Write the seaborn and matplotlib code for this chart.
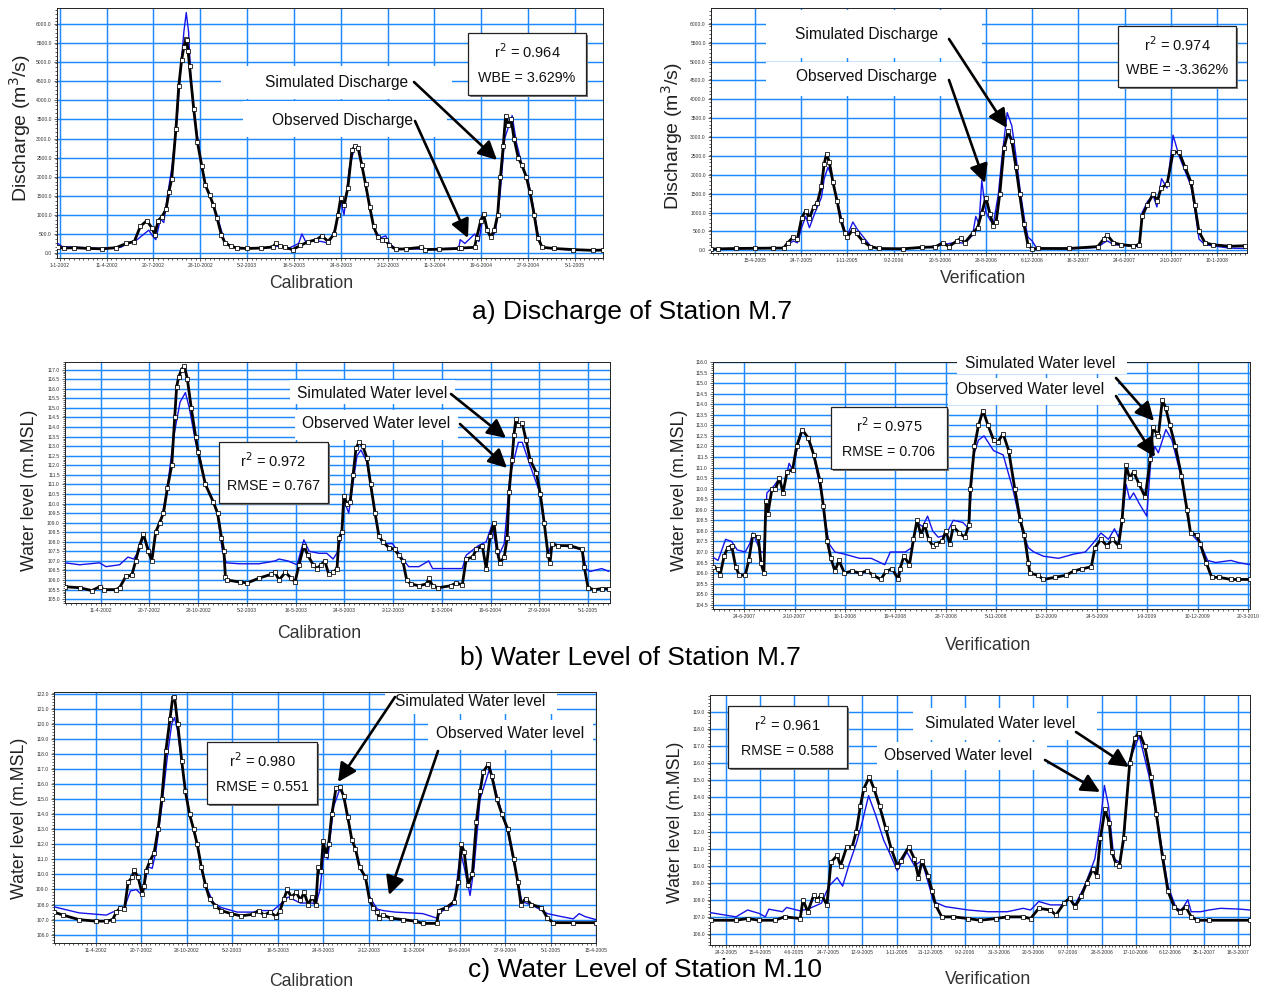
import pandas as pd
import matplotlib
matplotlib.use("Agg")
import matplotlib.pyplot as plt
import matplotlib.dates as mdates
from matplotlib.ticker import FixedLocator, FuncFormatter
from matplotlib.patches import Rectangle, FancyArrowPatch
import seaborn as sns

# ---- data (x = days after the first dated tick) ----
# a) discharge M.7, calibration (first tick 1-1-2002)
a_obs_day = [-4, 10, 30, 60, 90, 120, 142, 159, 172, 186, 197, 203, 210, 218, 227, 233, 239, 248, 254, 260, 265, 269, 271, 274, 277, 286, 294, 303, 311, 320, 328, 336, 345, 353, 366, 379, 400, 430, 455, 461, 470, 480, 497, 514, 531, 548, 560, 573, 586, 594, 600, 607, 615, 624, 631, 637, 645, 653, 662, 670, 679, 687, 696, 704, 717, 740, 772, 780, 810, 852, 856, 886, 890, 899, 905, 913, 920, 928, 935, 941, 947, 952, 958, 964, 970, 979, 987, 996, 1004, 1013, 1021, 1030, 1055, 1097, 1139, 1160]
a_obs_q = [150, 130, 140, 120, 110, 140, 250, 300, 700, 850, 650, 480, 850, 950, 1150, 1600, 1950, 3250, 4370, 5050, 5400, 5600, 5580, 5300, 4890, 3770, 2900, 2290, 1775, 1515, 1255, 910, 475, 260, 175, 130, 120, 130, 160, 250, 180, 150, 90, 200, 300, 350, 450, 300, 500, 1000, 1450, 1250, 1700, 2700, 2800, 2750, 2300, 1800, 1200, 700, 420, 350, 330, 200, 100, 110, 150, 90, 100, 120, 130, 150, 400, 850, 1020, 600, 420, 600, 1000, 2000, 2800, 3600, 3350, 3500, 3000, 2500, 2300, 2000, 1600, 1000, 400, 150, 120, 90, 70, 80]
a_sim_day = [-4, 5, 40, 90, 130, 150, 165, 180, 190, 198, 205, 215, 222, 230, 240, 250, 258, 265, 270, 275, 280, 290, 300, 311, 325, 340, 352, 365, 400, 455, 470, 490, 510, 517, 525, 545, 560, 575, 590, 600, 607, 618, 630, 640, 650, 662, 672, 685, 696, 704, 717, 780, 852, 855, 865, 886, 895, 905, 912, 920, 930, 940, 950, 958, 966, 975, 987, 1000, 1010, 1021, 1030, 1080, 1140, 1160]
a_sim_q = [250, 170, 150, 120, 150, 280, 350, 500, 600, 450, 350, 900, 800, 1500, 2300, 3500, 4800, 5800, 6300, 5800, 4500, 3400, 2500, 1800, 1350, 800, 300, 180, 120, 150, 200, 130, 250, 500, 300, 320, 300, 250, 700, 1350, 1000, 2200, 2800, 2700, 2000, 1200, 600, 400, 450, 250, 120, 100, 130, 350, 250, 500, 300, 1050, 600, 400, 550, 1500, 3000, 3300, 3600, 2900, 2300, 1900, 1300, 500, 150, 90, 80, 90]

# b) discharge M.7, verification (first tick 15-4-2005)
b_obs_day = [-95, -80, -40, 0, 40, 62, 71, 83, 92, 101, 110, 118, 127, 135, 144, 150, 155, 161, 169, 178, 186, 195, 200, 212, 220, 233, 250, 268, 320, 361, 390, 407, 420, 437, 446, 454, 471, 482, 491, 500, 509, 516, 522, 530, 539, 548, 556, 565, 573, 582, 591, 600, 613, 680, 742, 755, 763, 776, 793, 819, 832, 838, 849, 862, 871, 879, 892, 905, 918, 931, 944, 952, 961, 974, 991, 1026, 1060]
b_obs_q = [30, 40, 50, 55, 60, 60, 200, 350, 300, 850, 1050, 850, 1150, 1250, 1700, 2300, 2550, 2350, 1800, 1300, 800, 450, 350, 550, 450, 250, 100, 50, 40, 80, 90, 200, 100, 250, 320, 200, 450, 600, 1000, 1400, 950, 650, 750, 1500, 2700, 3150, 2900, 2200, 1500, 700, 150, 30, 50, 50, 100, 300, 400, 200, 150, 120, 150, 900, 1200, 1500, 1300, 1650, 1750, 2600, 2600, 2200, 1800, 1200, 500, 200, 150, 110, 120]
b_sim_day = [-95, -40, 40, 62, 71, 83, 92, 101, 110, 118, 130, 144, 150, 158, 165, 175, 186, 195, 200, 212, 222, 235, 250, 268, 361, 407, 437, 454, 471, 478, 485, 491, 500, 509, 516, 527, 535, 546, 556, 565, 575, 585, 591, 600, 610, 680, 742, 755, 763, 776, 832, 838, 850, 862, 870, 880, 892, 905, 918, 931, 944, 952, 961, 974, 1026, 1060]
b_sim_q = [40, 45, 55, 60, 150, 250, 200, 600, 900, 600, 1000, 1400, 1900, 2200, 2000, 1500, 900, 500, 400, 750, 550, 350, 120, 40, 60, 150, 220, 180, 400, 900, 700, 1850, 1000, 800, 700, 1500, 2500, 3650, 3300, 2500, 1500, 700, 350, 250, 50, 40, 80, 200, 250, 150, 100, 1000, 1300, 1450, 1150, 1900, 1650, 3050, 2500, 2100, 1700, 1100, 300, 150, 60, 50]

# c) water level M.7, calibration (first tick 11-4-2002)
c_obs_day = [-73, -43, -18, -2, 7, 31, 39, 52, 64, 72, 80, 88, 98, 105, 113, 121, 129, 137, 146, 152, 156, 160, 166, 172, 178, 186, 195, 200, 215, 231, 240, 248, 253, 256, 260, 285, 301, 325, 350, 358, 366, 379, 391, 399, 407, 417, 425, 436, 444, 452, 460, 468, 477, 485, 489, 495, 499, 505, 512, 518, 524, 530, 538, 546, 554, 563, 571, 579, 591, 603, 612, 620, 628, 636, 653, 669, 673, 681, 693, 718, 730, 742, 750, 763, 771, 783, 791, 799, 807, 814, 819, 828, 834, 838, 844, 848, 852, 857, 865, 873, 881, 894, 902, 910, 918, 922, 926, 938, 963, 988, 992, 1000, 1012, 1028, 1043]
c_obs_h = [105.65, 105.6, 105.45, 105.65, 105.5, 105.5, 105.6, 106.2, 106.25, 107.0, 107.8, 108.4, 107.5, 107.0, 108.5, 109.0, 109.5, 110.8, 112.0, 114.5, 116.1, 116.6, 117.0, 117.2, 116.5, 115.0, 113.5, 112.7, 111.0, 110.1, 109.5, 108.2, 107.5, 106.15, 106.0, 105.9, 105.85, 106.1, 106.3, 106.4, 106.0, 106.4, 106.1, 105.9, 106.8, 107.8, 107.3, 106.8, 106.6, 106.8, 107.0, 106.3, 106.4, 106.6, 108.2, 108.5, 110.4, 110.0, 110.1, 111.5, 112.9, 113.2, 113.0, 112.4, 111.0, 109.5, 108.3, 108.0, 107.7, 107.6, 107.3, 107.0, 106.0, 105.8, 105.7, 105.8, 106.1, 105.7, 105.6, 105.7, 105.85, 105.75, 107.1, 107.2, 107.6, 107.8, 106.6, 108.3, 109.0, 107.5, 106.9, 107.2, 108.2, 110.6, 112.3, 113.6, 114.4, 114.1, 114.2, 113.3, 112.3, 111.6, 110.5, 109.0, 107.3, 106.9, 107.9, 107.8, 107.8, 107.6, 106.7, 105.6, 105.5, 105.55, 105.55]
c_sim_day = [-73, -43, -2, 11, 39, 56, 68, 80, 88, 96, 106, 114, 124, 137, 150, 163, 174, 182, 195, 203, 215, 231, 240, 250, 258, 285, 325, 358, 366, 384, 403, 417, 428, 448, 464, 477, 487, 495, 499, 509, 526, 534, 546, 554, 563, 571, 579, 599, 620, 632, 653, 673, 681, 742, 750, 775, 791, 803, 815, 828, 840, 857, 865, 881, 902, 918, 926, 988, 996, 1004, 1028, 1043]
c_sim_h = [106.9, 106.8, 106.9, 106.7, 106.8, 107.2, 107.1, 107.6, 108.3, 107.8, 107.2, 108.6, 109.1, 110.8, 113.5, 115.3, 115.8, 115.0, 113.2, 112.5, 111.0, 110.1, 109.4, 107.5, 106.9, 106.85, 106.85, 107.0, 107.1, 107.0, 106.8, 108.1, 107.5, 107.4, 107.4, 107.1, 107.5, 108.5, 110.2, 109.5, 112.5, 112.8, 112.2, 111.0, 109.5, 108.3, 107.9, 107.9, 107.1, 106.7, 106.7, 107.0, 106.6, 106.6, 107.3, 107.8, 108.0, 108.9, 107.2, 107.9, 111.5, 113.2, 113.2, 112.0, 110.5, 107.4, 107.9, 107.6, 106.6, 106.45, 106.6, 106.45]

# d) water level M.7, verification (first tick 24-6-2007)
d_obs_day = [-62, -52, -48, -40, -33, -25, -17, -10, 2, 9, 17, 28, 33, 39, 43, 47, 55, 62, 70, 77, 85, 96, 104, 115, 127, 138, 150, 157, 165, 172, 180, 188, 199, 214, 229, 244, 256, 271, 282, 294, 306, 309, 317, 328, 336, 343, 351, 358, 366, 374, 381, 393, 400, 408, 415, 427, 438, 446, 449, 457, 465, 474, 484, 495, 503, 514, 525, 537, 548, 556, 564, 567, 583, 594, 617, 639, 654, 670, 689, 696, 708, 720, 731, 743, 750, 758, 765, 773, 784, 796, 806, 811, 819, 822, 830, 837, 845, 856, 868, 879, 886, 898, 905, 917, 928, 943, 966, 981, 1004]
d_obs_h = [106.3, 106.2, 105.9, 106.8, 107.2, 107.3, 106.3, 105.9, 105.9, 106.6, 107.8, 107.7, 106.5, 106.0, 109.4, 108.8, 110.0, 110.0, 110.5, 109.8, 110.8, 110.9, 112.0, 112.8, 112.4, 111.6, 110.4, 109.2, 107.5, 106.7, 106.1, 106.6, 106.0, 106.1, 106.0, 106.1, 105.9, 105.7, 106.1, 106.2, 105.7, 106.2, 106.8, 106.4, 107.6, 108.5, 107.8, 108.3, 107.6, 107.3, 107.4, 107.5, 108.0, 107.4, 108.2, 107.9, 107.7, 108.3, 110.0, 112.0, 113.0, 113.7, 113.0, 112.3, 112.2, 112.6, 111.8, 110.0, 108.5, 107.8, 106.5, 106.0, 105.9, 105.7, 105.8, 105.9, 106.1, 106.2, 106.3, 107.2, 107.6, 107.3, 107.6, 107.3, 108.5, 111.1, 110.5, 110.8, 110.2, 109.6, 111.4, 112.9, 112.6, 112.5, 114.2, 113.8, 113.0, 112.0, 110.6, 109.0, 107.9, 107.8, 107.4, 106.5, 105.8, 105.8, 105.7, 105.7, 105.7]
d_sim_day = [-62, -52, -37, -25, -14, 2, 11, 17, 33, 39, 45, 58, 70, 77, 89, 96, 108, 117, 134, 153, 168, 180, 199, 229, 252, 279, 290, 306, 320, 332, 343, 354, 364, 374, 385, 400, 415, 434, 446, 454, 465, 476, 495, 514, 533, 552, 564, 575, 594, 624, 654, 677, 692, 708, 723, 735, 743, 750, 758, 765, 773, 784, 799, 807, 815, 822, 837, 849, 868, 886, 905, 920, 936, 966, 981, 1004]
d_sim_h = [106.75, 106.6, 107.6, 107.5, 107.1, 107.0, 107.4, 107.9, 107.0, 107.0, 109.8, 110.1, 110.5, 109.9, 111.2, 110.9, 112.2, 112.8, 112.0, 109.8, 107.4, 107.0, 106.9, 106.7, 106.7, 106.4, 107.0, 107.0, 107.0, 107.2, 108.4, 108.2, 108.7, 108.0, 107.7, 107.8, 108.5, 108.4, 108.1, 111.5, 112.3, 112.5, 111.8, 111.6, 110.0, 108.0, 107.2, 107.0, 106.8, 106.7, 106.9, 107.0, 107.4, 107.9, 107.6, 108.1, 107.7, 108.5, 110.2, 109.5, 109.8, 109.3, 108.7, 111.3, 112.0, 111.7, 112.8, 112.3, 110.5, 107.9, 107.4, 106.6, 106.5, 106.6, 106.5, 106.4]

# e) water level M.10, calibration (first tick 11-4-2002)
e_obs_day = [-92, -72, -37, 0, 23, 37, 45, 54, 63, 71, 80, 84, 93, 102, 106, 110, 119, 128, 137, 145, 154, 163, 169, 173, 180, 189, 197, 206, 215, 223, 232, 241, 250, 263, 276, 297, 319, 345, 358, 370, 383, 397, 405, 414, 421, 430, 441, 450, 458, 467, 476, 484, 489, 495, 500, 506, 512, 519, 528, 537, 545, 554, 563, 571, 580, 593, 602, 610, 619, 623, 632, 649, 676, 702, 719, 750, 754, 771, 788, 797, 804, 810, 819, 828, 837, 845, 852, 863, 871, 882, 893, 906, 919, 928, 935, 945, 958, 980, 993, 1006, 1050, 1100]
e_obs_h = [107.5, 107.3, 107.0, 106.9, 106.9, 107.0, 107.5, 107.8, 107.7, 109.5, 109.8, 110.3, 109.8, 108.7, 109.2, 110.2, 110.9, 111.4, 113.0, 115.0, 118.2, 120.3, 121.7, 121.8, 120.0, 117.5, 115.5, 114.0, 113.0, 112.0, 110.5, 109.3, 108.4, 107.9, 107.6, 107.4, 107.25, 107.35, 107.6, 107.3, 107.5, 107.2, 107.6, 108.4, 109.0, 108.5, 108.8, 108.3, 108.8, 108.0, 108.5, 108.0, 110.5, 110.2, 112.2, 111.3, 112.0, 114.0, 115.7, 115.8, 115.2, 113.8, 112.3, 111.7, 110.5, 109.8, 108.3, 107.8, 107.5, 107.1, 107.3, 107.1, 107.0, 106.9, 106.75, 106.75, 107.6, 107.8, 108.2, 109.5, 112.0, 111.5, 109.3, 110.0, 113.5, 115.5, 116.8, 117.3, 116.5, 115.0, 114.0, 113.0, 111.0, 109.5, 108.0, 108.4, 108.0, 107.8, 107.1, 106.8, 106.8, 106.8]
e_sim_day = [-92, -37, 23, 37, 50, 63, 76, 89, 102, 115, 124, 132, 145, 158, 167, 173, 180, 193, 206, 215, 223, 232, 241, 259, 276, 311, 345, 363, 389, 405, 423, 450, 476, 484, 493, 502, 510, 523, 537, 545, 554, 563, 571, 580, 593, 602, 619, 632, 658, 719, 750, 758, 788, 802, 810, 823, 832, 845, 867, 884, 906, 928, 937, 963, 993, 1024, 1050, 1063, 1076, 1100]
e_sim_h = [107.85, 107.45, 107.3, 107.5, 107.6, 107.8, 108.9, 109.0, 108.6, 110.5, 110.4, 111.5, 114.5, 118.0, 120.0, 120.4, 119.5, 116.5, 114.0, 113.0, 112.0, 110.5, 109.3, 108.1, 107.8, 107.5, 107.5, 107.6, 107.6, 108.0, 108.5, 108.1, 108.1, 108.0, 109.0, 111.5, 111.0, 114.5, 115.7, 115.2, 113.8, 112.3, 111.7, 110.5, 109.8, 108.5, 107.7, 107.6, 107.5, 107.4, 107.1, 107.5, 108.0, 111.5, 110.5, 108.6, 110.5, 115.0, 117.1, 115.0, 112.8, 109.5, 108.2, 107.9, 107.4, 107.2, 107.05, 107.4, 107.2, 107.0]

# f) water level M.10, verification (first tick 24-2-2005)
f_obs_day = [-22, 15, 32, 49, 72, 86, 109, 113, 120, 129, 134, 140, 148, 154, 163, 168, 177, 185, 191, 197, 202, 210, 217, 225, 234, 242, 251, 256, 268, 276, 282, 287, 296, 302, 307, 316, 333, 355, 372, 395, 412, 435, 446, 458, 475, 483, 495, 503, 511, 520, 528, 537, 543, 548, 555, 561, 565, 571, 576, 582, 591, 599, 605, 613, 622, 630, 639, 647, 656, 664, 673, 681, 690, 707, 767]
f_obs_h = [106.8, 106.8, 106.9, 106.8, 106.8, 107.0, 106.9, 108.0, 107.3, 108.3, 108.0, 108.3, 107.7, 110.2, 110.6, 110.0, 111.1, 111.1, 112.0, 113.5, 114.5, 115.2, 114.5, 113.5, 112.2, 111.0, 110.0, 110.3, 111.1, 110.4, 109.3, 110.3, 109.4, 108.5, 107.7, 107.0, 107.0, 106.9, 106.8, 106.9, 107.0, 107.0, 106.9, 107.5, 107.4, 107.1, 107.8, 108.1, 107.6, 108.2, 109.0, 109.8, 109.4, 111.6, 113.3, 112.5, 110.8, 110.1, 110.0, 111.6, 116.0, 117.5, 117.8, 117.0, 115.2, 113.0, 110.5, 108.5, 107.6, 107.3, 107.6, 107.0, 106.8, 106.8, 106.8]
f_sim_day = [-23, 15, 32, 49, 58, 63, 83, 89, 109, 123, 140, 151, 163, 171, 180, 191, 200, 209, 219, 231, 239, 251, 265, 276, 287, 304, 321, 355, 384, 412, 435, 446, 458, 475, 492, 503, 511, 525, 540, 548, 554, 560, 568, 576, 582, 591, 605, 619, 633, 647, 659, 667, 676, 681, 695, 707, 724, 753, 767]
f_sim_h = [107.25, 107.0, 107.4, 107.2, 107.0, 107.45, 107.3, 107.55, 107.35, 107.5, 107.8, 108.8, 109.3, 108.8, 110.0, 111.3, 112.6, 114.1, 113.0, 111.5, 110.8, 109.7, 110.8, 110.0, 110.3, 107.9, 107.6, 107.4, 107.3, 107.3, 107.5, 107.4, 107.9, 107.7, 107.7, 108.1, 107.7, 108.8, 110.4, 112.5, 114.7, 113.5, 110.4, 110.2, 111.3, 116.2, 117.6, 115.3, 112.3, 108.8, 107.5, 107.4, 108.0, 107.3, 107.3, 107.4, 107.5, 107.45, 107.4]

GRID = "#1E88FF"
SIM = "#1515E8"

sns.set_theme(style="white")
plt.rcParams['font.family'] = ['Liberation Sans', 'DejaVu Sans']

W, H = 1264, 990
fig = plt.figure(figsize=(W / 100, H / 100), dpi=100)


def fx(x):
    return x / W


def fy(y):
    return 1 - y / H


def to_dates(base, days):
    return pd.Timestamp(base) + pd.to_timedelta(days, unit="D")


def fmt_date(v, pos):
    d = mdates.num2date(v)
    return f"{d.day}-{d.month}-{d.year}"


def draw_panel(rect, base, od, ov, sd, sv, xlim, nticks, step, minor, ylim, ytick, ystep, yminor, yfmt):
    l, t, r, b = rect
    ax = fig.add_axes([fx(l), fy(b), fx(r - l), (b - t) / H])
    sns.lineplot(x=to_dates(base, sd), y=sv, ax=ax, color=SIM, lw=1.0, zorder=3)
    sns.lineplot(x=to_dates(base, od), y=ov, ax=ax, color="black", lw=2.0, marker="s",
                 markersize=2.3, markerfacecolor="white", markeredgecolor="black",
                 markeredgewidth=0.55, zorder=4)
    x0, x1 = to_dates(base, xlim)
    ax.set_xlim(x0, x1)
    ax.set_ylim(*ylim)
    major = mdates.date2num(to_dates(base, [k * step for k in range(nticks)]))
    mins = mdates.date2num(to_dates(base, list(range(xlim[0] - xlim[0] % minor, xlim[1] + 1, minor))))
    ax.xaxis.set_major_locator(FixedLocator(major))
    ax.xaxis.set_minor_locator(FixedLocator(mins))
    ax.xaxis.set_major_formatter(FuncFormatter(fmt_date))
    yt = [ytick[0] + k * ystep for k in range(int(round((ytick[1] - ytick[0]) / ystep)) + 1)]
    ax.yaxis.set_major_locator(FixedLocator(yt))
    ym = []
    v = ylim[0]
    while v <= ylim[1]:
        ym.append(v)
        v += yminor
    ax.yaxis.set_minor_locator(FixedLocator(ym))
    ax.yaxis.set_major_formatter(FuncFormatter(lambda v, p: yfmt.format(v)))
    ax.grid(True, which="major", color=GRID, lw=1.05)
    ax.set_axisbelow(True)
    ax.tick_params(which="both", bottom=True, left=True, direction="out", color="#222",
                   width=0.5, labelsize=3.6, labelcolor="#333", pad=1.5)
    ax.tick_params(which="major", length=2.2)
    ax.tick_params(which="minor", length=1.3)
    ax.set_xlabel("")
    ax.set_ylabel("")
    for s in ax.spines.values():
        s.set_color("#222")
        s.set_linewidth(0.7)
    return ax


draw_panel((57, 8, 603, 258), "2002-01-01", a_obs_day, a_obs_q, a_sim_day, a_sim_q,
           (-6, 1160), 12, 100, 10, (-130, 6420), (0, 6000), 500, 100, "{:.1f}")
draw_panel((711, 8, 1247, 253), "2005-04-15", b_obs_day, b_obs_q, b_sim_day, b_sim_q,
           (-95, 1065), 11, 100, 10, (-70, 6420), (0, 6000), 500, 100, "{:.1f}")
draw_panel((65, 362, 610, 603), "2002-04-11", c_obs_day, c_obs_h, c_sim_day, c_sim_h,
           (-73, 1045), 11, 100, 10, (104.8, 117.4), (105.0, 117.0), 0.5, 0.1, "{:.1f}")
draw_panel((713, 362, 1250, 609), "2007-06-24", d_obs_day, d_obs_h, d_sim_day, d_sim_h,
           (-62, 1004), 11, 100, 10, (104.3, 116.0), (104.5, 116.0), 0.5, 0.1, "{:.1f}")
draw_panel((54, 692, 596, 943), "2002-04-11", e_obs_day, e_obs_h, e_sim_day, e_sim_h,
           (-92, 1100), 12, 100, 10, (105.45, 122.1), (106.0, 122.0), 1.0, 0.2, "{:.1f}")
draw_panel((710, 695, 1250, 945), "2005-02-24", f_obs_day, f_obs_h, f_sim_day, f_sim_h,
           (-23, 767), 16, 50, 5, (105.35, 120.0), (106.0, 119.0), 1.0, 0.2, "{:.1f}")

# y labels, x labels, captions
ylabs = [(20, 128, "Discharge (m$^{3}$/s)", 14), (672, 136, "Discharge (m$^{3}$/s)", 14),
         (30, 490, "Water level (m.MSL)", 12.8), (680, 490, "Water level (m.MSL)", 12.8),
         (20, 818, "Water level (m.MSL)", 12.8), (676, 822, "Water level (m.MSL)", 12.8)]
for x, y, s, fs in ylabs:
    fig.text(fx(x), fy(y), s, rotation=90, ha="center", va="center", fontsize=fs, color="#222")

xlabs = [(311, 283, "Calibration"), (983, 279, "Verification"), (319, 634, "Calibration"),
         (988, 645, "Verification"), (311, 981, "Calibration"), (988, 979, "Verification")]
for x, y, s in xlabs:
    fig.text(fx(x), fy(y), s, ha="center", va="center", fontsize=12.7, color="#333")

caps = [(632, 312, "a) Discharge of Station M.7"), (630, 658, "b) Water Level of Station M.7"),
        (645, 970, "c) Water Level of Station M.10")]
for x, y, s in caps:
    fig.text(fx(x), fy(y), s, ha="center", va="center", fontsize=19, color="black")

# white patches behind the curve labels
masks = [(221, 66, 452, 99), (243, 101, 447, 137), (766, 10, 982, 58), (766, 62, 982, 96),
         (290, 380, 455, 404), (295, 410, 458, 440), (957, 354, 1127, 374), (948, 378, 1118, 405),
         (385, 693, 557, 714), (428, 720, 593, 750), (913, 708, 1097, 740), (877, 742, 1047, 770)]
for l, t, r, b in masks:
    fig.add_artist(Rectangle((fx(l), fy(b)), fx(r - l), (b - t) / H, facecolor="white", edgecolor="none"))

labels = [(337, 82, "Simulated Discharge"), (343, 120, "Observed Discharge"),
          (867, 35, "Simulated Discharge"), (867, 77, "Observed Discharge"),
          (372, 394, "Simulated Water level"), (376, 423, "Observed Water level"),
          (1040, 364, "Simulated Water level"), (1030, 390, "Observed Water level"),
          (470, 701, "Simulated Water level"), (510, 733, "Observed Water level"),
          (1000, 723, "Simulated Water level"), (958, 755, "Observed Water level")]
for x, y, s in labels:
    fig.text(fx(x), fy(y), s, ha="center", va="center", fontsize=11.2, color="#111")

# statistic boxes
boxes = [(468, 33, 586, 95, "0.964", "WBE = 3.629%"), (1118, 26, 1236, 87, "0.974", "WBE = -3.362%"),
         (219, 442, 328, 503, "0.972", "RMSE = 0.767"), (831, 407, 947, 469, "0.975", "RMSE = 0.706"),
         (207, 742, 317, 804, "0.980", "RMSE = 0.551"), (728, 706, 847, 768, "0.961", "RMSE = 0.588")]
for l, t, r, b, r2, stat in boxes:
    fig.add_artist(Rectangle((fx(l + 2), fy(b + 2)), fx(r - l), (b - t) / H, facecolor="#777", edgecolor="none"))
    fig.add_artist(Rectangle((fx(l), fy(b)), fx(r - l), (b - t) / H, facecolor="white", edgecolor="#222", lw=0.9))
    cx = (l + r) / 2
    fig.text(fx(cx), fy(t + (b - t) * 0.3), "r$^{2}$ = " + r2, ha="center", va="center", fontsize=10.5, color="#111")
    fig.text(fx(cx), fy(t + (b - t) * 0.72), stat, ha="center", va="center", fontsize=10.3, color="#111")

# arrows (tail -> head, pixels)
arrows = [((414, 82), (497, 160)), ((415, 121), (468, 238)),
          ((949, 39), (1007, 128)), ((949, 80), (985, 183)),
          ((451, 394), (506, 438)), ((460, 424), (507, 468)),
          ((1116, 378), (1154, 421)), ((1116, 396), (1155, 457)),
          ((395, 697), (338, 782)), ((438, 751), (389, 895)),
          ((1076, 732), (1129, 767)), ((1045, 760), (1100, 792))]
for (x0, y0), (x1, y1) in arrows:
    fig.add_artist(FancyArrowPatch((fx(x0), fy(y0)), (fx(x1), fy(y1)),
                                   arrowstyle="-|>,head_length=0.7,head_width=0.35",
                                   mutation_scale=16, lw=1.9, color="black", shrinkA=0, shrinkB=0))

fig.savefig("out.png", dpi=100)
